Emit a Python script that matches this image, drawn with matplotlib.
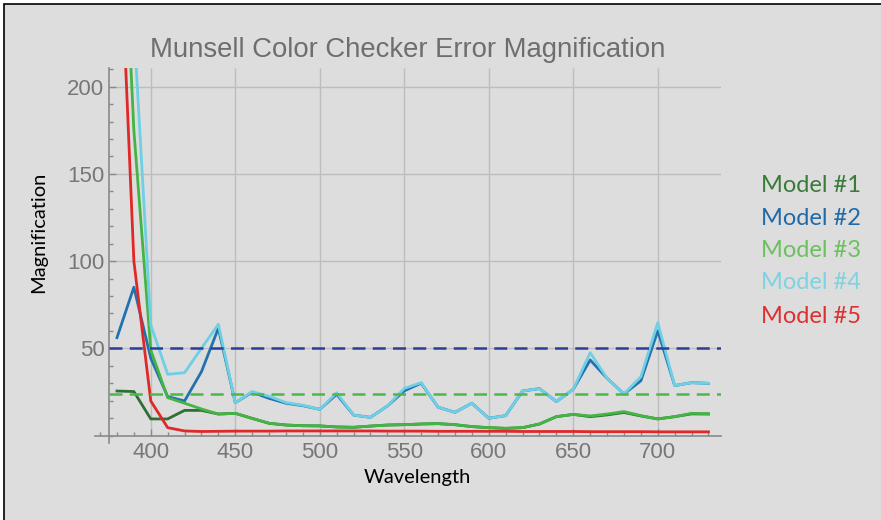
import matplotlib
matplotlib.use("Agg")
import matplotlib.pyplot as plt
from matplotlib.patches import Rectangle
from matplotlib.ticker import MultipleLocator

# 파장 (nm)
wavelengths = list(range(380, 740, 10))

# 모델별 오차 배율
model1 = [25.5, 25.2, 9.5, 9.5, 14.4, 14.4, 12.3, 12.7, 9.8, 7.0, 6.0, 5.6,
          5.5, 4.9, 4.7, 5.4, 6.0, 6.2, 6.6, 6.8, 6.2, 5.1, 4.5, 4.1,
          4.5, 6.6, 10.8, 12.1, 10.8, 11.8, 13.2, 11.2, 9.5, 10.8, 12.4, 12.3]
model2 = [56.1, 85.0, 44.3, 22.3, 19.8, 36.6, 61.5, 18.8, 24.8, 21.3, 18.5, 17.1,
          15.0, 23.6, 11.7, 10.4, 16.9, 25.6, 30.0, 16.2, 13.3, 18.5, 9.9, 11.4,
          25.5, 26.9, 19.4, 26.5, 43.3, 32.8, 23.8, 31.4, 60.0, 28.6, 30.3, 29.9]
model3 = [380.0, 175.0, 49.0, 21.7, 18.5, 15.2, 12.3, 12.7, 9.8, 7.0, 6.0, 5.6,
          5.5, 4.9, 4.7, 5.4, 6.0, 6.2, 6.6, 6.8, 6.2, 5.1, 4.5, 4.1,
          4.5, 6.6, 10.8, 12.1, 11.2, 12.3, 13.7, 11.4, 9.5, 10.8, 12.7, 12.5]
model4 = [600.0, 235.0, 63.4, 35.1, 36.0, 50.0, 63.8, 18.8, 25.2, 22.5, 18.9, 17.3,
          15.0, 24.5, 11.7, 10.4, 16.9, 27.0, 30.3, 16.2, 13.3, 18.5, 9.9, 11.4,
          25.5, 26.9, 19.4, 26.5, 47.5, 32.8, 23.8, 33.7, 64.7, 28.6, 30.3, 29.9]
model5 = [330.0, 100.0, 19.8, 4.5, 2.6, 2.3, 2.4, 2.5, 2.5, 2.5, 2.6, 2.6,
          2.6, 2.6, 2.6, 2.6, 2.5, 2.5, 2.5, 2.4, 2.4, 2.4, 2.4, 2.4,
          2.3, 2.3, 2.3, 2.3, 2.2, 2.2, 2.2, 2.2, 2.1, 2.1, 2.1, 2.1]

model_names = ["Model #1", "Model #2", "Model #3", "Model #4", "Model #5"]
model_colors = ["#2f6e34", "#2272b0", "#44b444", "#6fcfe4", "#e02828"]
label_colors = ["#3a7a3a", "#1f6aa8", "#6cc060", "#7dd3e0", "#dd3030"]

# 기준선 (점선)
ref_levels = [50, 24]
ref_colors = ["#2c3f98", "#4cb848"]

XMIN, XMAX = 367, 737.4
YMIN, YMAX = -4.3, 210.7
X_ORIGIN = 375

W, H = 881, 520
fig = plt.figure(figsize=(W / 100, H / 100), dpi=100, facecolor="white")
fig.patches.append(Rectangle((3.5 / W, -0.1), 2, 1.1 - 4.5 / H,
                             transform=fig.transFigure, facecolor="#dddddd",
                             edgecolor="black", linewidth=1.2, zorder=-10))

ax = fig.add_axes([95 / W, 1 - 443 / H, 626 / W, 375 / H])
ax.set_facecolor("none")
ax.set_xlim(XMIN, XMAX)
ax.set_ylim(YMIN, YMAX)

# 격자
grid_col = "#bdbdbd"
ax.vlines(range(400, 701, 50), 0, YMAX, color=grid_col, lw=1, zorder=0)
ax.hlines(range(50, 201, 50), X_ORIGIN, XMAX, color=grid_col, lw=1, zorder=0)

for vals, col in zip([model1, model2, model3, model4, model5], model_colors):
    ax.plot(wavelengths, vals, color=col, lw=2.0, zorder=3)

for lvl, col in zip(ref_levels, ref_colors):
    ax.hlines(lvl, X_ORIGIN, XMAX, color=col, lw=1.8, linestyles=(0, (5.2, 2.9)), zorder=4)

for side in ["top", "right"]:
    ax.spines[side].set_visible(False)
ax.spines["left"].set_position(("data", X_ORIGIN))
ax.spines["bottom"].set_position(("data", 0))
for side in ["left", "bottom"]:
    ax.spines[side].set_color("#8a8a8a")
    ax.spines[side].set_linewidth(1.2)

ax.xaxis.set_major_locator(MultipleLocator(50))
ax.xaxis.set_minor_locator(MultipleLocator(10))
ax.yaxis.set_major_locator(MultipleLocator(50))
ax.yaxis.set_minor_locator(MultipleLocator(10))
ax.set_xticks(range(400, 701, 50))
ax.set_yticks(range(50, 201, 50))
ax.tick_params(which="major", direction="in", length=5, width=1, color="#8a8a8a",
               labelsize=16, labelcolor="#777777")
ax.tick_params(which="minor", direction="in", length=3, width=1, color="#8a8a8a")
ax.tick_params(axis="x", pad=5)
ax.tick_params(axis="y", pad=3)
for lab in ax.get_xticklabels() + ax.get_yticklabels():
    lab.set_fontfamily("Liberation Sans")

fig.text(407.5 / W, 1 - 50 / H, "Munsell Color Checker Error Magnification",
         ha="center", va="center", fontsize=19.8, color="#6e6e6e",
         family="Liberation Sans")
fig.text(417 / W, 1 - 477 / H, "Wavelength", ha="center", va="center",
         fontsize=14.5, family="Lato", color="black")
fig.text(39 / W, 1 - 232 / H, "Magnification", ha="center", va="center",
         rotation=90, fontsize=14.5, family="Lato", color="black")

baselines = [191.7, 225.0, 256.7, 289.3, 322.7]
for name, col, yb in zip(model_names, label_colors, baselines):
    fig.text(761 / W, 1 - yb / H, name, ha="left", va="baseline",
             fontsize=17, family="Lato", color=col)

fig.savefig("out.png", dpi=100)
